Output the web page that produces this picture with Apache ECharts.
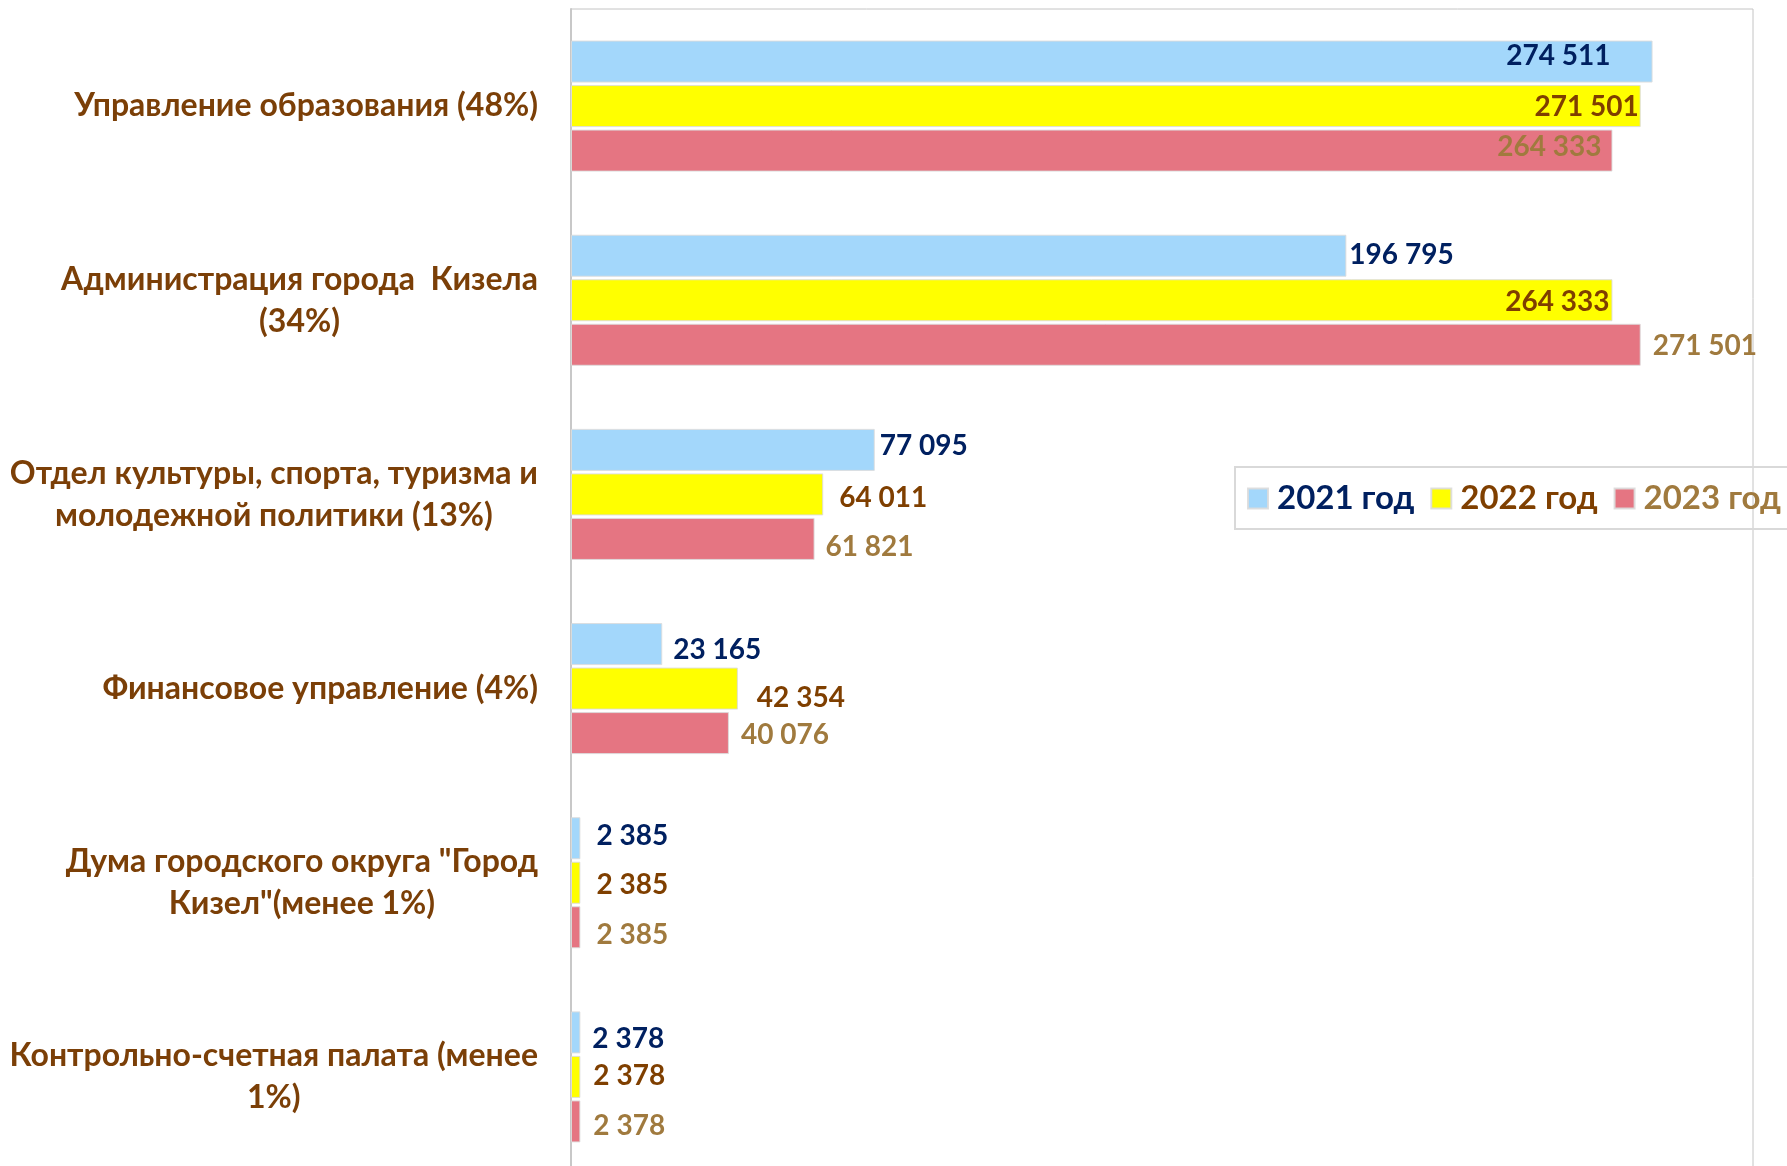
<!DOCTYPE html>
<html><head><meta charset="utf-8">
<script src="https://cdn.jsdelivr.net/npm/echarts@6/dist/echarts.min.js"></script>
<style>html,body{margin:0;padding:0;background:#fff}#c{width:1787px;height:1166px}</style>
</head><body><div id="c"></div>
<script>
const categories = [
  'Управление образования (48%)',
  'Администрация города  Кизела\n(34%)',
  'Отдел культуры, спорта, туризма и\nмолодежной политики (13%)',
  'Финансовое управление (4%)',
  'Дума городского округа "Город\nКизел"(менее 1%)',
  'Контрольно-счетная палата (менее\n1%)'
];
const seriesNames = ['2021 год', '2022 год', '2023 год'];
const values2021 = [274511, 196795, 77095, 23165, 2385, 2378];
const values2022 = [271501, 264333, 64011, 42354, 2385, 2378];
const values2023 = [264333, 271501, 61821, 40076, 2385, 2378];

// label placement (style config, kept separate from data)
const labelPlace = [
  [['insideRight', -42, -6], ['right', 3, -1], ['right', 5, -4], ['right', 11, 6], ['right', 16, -2], ['right', 12, 7]],
  [['insideRight', -2, 1], ['insideRight', -3, 2], ['right', 16, 4], ['right', 19, 9], ['right', 16, 2], ['right', 13, -1]],
  [['insideRight', -11, -4], ['right', 12, 1], ['right', 11, 8], ['right', 12, 2], ['right', 16, 8], ['right', 13, 5]]
];
const barColors = ['#A3D7FB', '#FFFF00', '#E57582'];
const textColors = ['#002060', '#7F3F00', '#A07A3E'];
const catColor = '#7B3F07';
const FONT = 'Lato, "Open Sans", sans-serif';

function fmt(v) { return String(v).replace(/\B(?=(\d{3})+(?!\d))/g, ' '); }

const allValues = [values2021, values2022, values2023];
const series = allValues.map((vals, si) => ({
  name: seriesNames[si],
  type: 'bar',
  barWidth: 42,
  barGap: '6%',
  itemStyle: { color: barColors[si], borderColor: 'rgba(220,220,220,0.9)', borderWidth: 1 },
  data: vals.map((v, i) => {
    const p = labelPlace[si][i];
    return {
      value: v,
      label: {
        show: true, position: p[0], distance: 0, offset: [p[1], p[2]],
        formatter: () => fmt(v),
        color: textColors[si], fontSize: 28, fontWeight: 'bold', fontFamily: FONT
      }
    };
  })
}));

const chart = echarts.init(document.getElementById('c'), null, { renderer: 'canvas' });
chart.setOption({
  animation: false,
  backgroundColor: '#fff',
  grid: { left: 571, right: 34, top: 9, height: 1165, show: true, borderColor: '#c4c4c4', borderWidth: 1,
          containLabel: false, outerBoundsMode: 'none' },
  legend: {
    left: 1235, top: 467,
    width: 600,
    orient: 'horizontal',
    padding: [15, 12, 14, 12],
    itemGap: 16,
    itemWidth: 20, itemHeight: 20,
    icon: 'rect',
    borderColor: '#d9d9d9', borderWidth: 2,
    data: seriesNames.map((n, i) => ({ name: n, textStyle: { color: textColors[i] } })),
    textStyle: { fontSize: 33, fontWeight: 'bold', fontFamily: FONT, padding: [0, 0, 0, 4] }
  },
  xAxis: {
    type: 'value', min: 0, max: 300000, interval: 50000,
    axisLabel: { show: false }, axisLine: { show: false }, axisTick: { show: false },
    splitLine: { show: false }
  },
  yAxis: {
    type: 'category', inverse: true, data: categories,
    axisLine: { show: true, lineStyle: { color: '#c8c8c8', width: 2 } },
    axisTick: { show: false },
    axisLabel: {
      align: 'right', margin: 33,
      formatter: (s) => s.split('\n').map(l => '{c|' + l + '}').join('\n'),
      rich: { c: { align: 'center', fontSize: 32, fontWeight: 'bold', fontFamily: FONT, color: catColor, lineHeight: 42 } }
    }
  },
  series: series
});
</script>
</body></html>
